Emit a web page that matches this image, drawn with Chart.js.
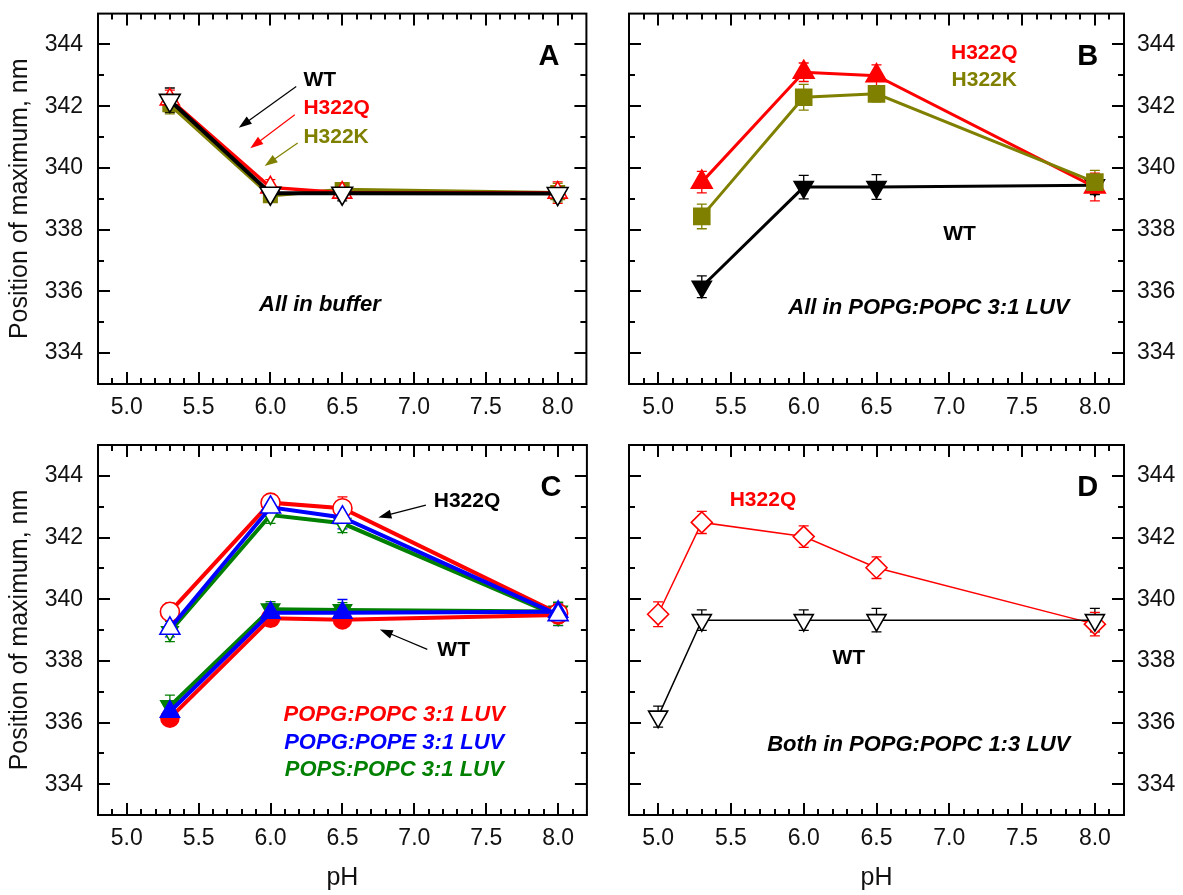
<!DOCTYPE html>
<html>
<head>
<meta charset="utf-8">
<script src="https://cdn.jsdelivr.net/npm/chart.js@4.4.0/dist/chart.umd.min.js"></script>
<style>
  body { margin: 0; background: #fff; }
  #wrap { position: relative; width: 1183px; height: 895px; overflow: hidden; }
  canvas { position: absolute; }
</style>
</head>
<body>
<div id="wrap">
  <canvas id="cA" width="600" height="440" style="left:0;top:0"></canvas>
  <canvas id="cB" width="583" height="440" style="left:600px;top:0"></canvas>
  <canvas id="cC" width="600" height="465" style="left:0;top:430px"></canvas>
  <canvas id="cD" width="583" height="465" style="left:600px;top:430px"></canvas>
</div>
<script>
// tick labels
const xTickVals = [5.0, 5.5, 6.0, 6.5, 7.0, 7.5, 8.0];
const yTickVals = [334, 336, 338, 340, 342, 344];

// pH values
const phABC = [5.3, 6.0, 6.5, 8.0];
const phD = [5.0, 5.3, 6.0, 6.5, 8.0];

// A: all in buffer
const aWT = [342.19, 339.18, 339.18, 339.17];
const aWTErr = [0.4, 0.2, 0.25, 0.2];
const aQ = [342.22, 339.37, 339.2, 339.2];
const aQErr = [0.3, 0.25, 0.2, 0.35];
const aK = [342.05, 339.1, 339.3, 339.2];
const aKErr = [0.3, 0.2, 0.2, 0.3];

// B: POPG:POPC 3:1 LUV
const bQ = [339.54, 343.10, 342.99, 339.38];
const bQErr = [0.35, 0.3, 0.35, 0.45];
const bK = [338.43, 342.29, 342.40, 339.54];
const bKErr = [0.4, 0.42, 0.26, 0.38];
const bWT = [336.15, 339.38, 339.38, 339.44];
const bWTErr = [0.35, 0.38, 0.4, 0.3];

// C: three lipid mixtures
const cQpc = [339.59, 343.13, 342.95, 339.54];
const cQpcErr = [0.28, 0.17, 0.37, 0.3];
const cQpe = [339.05, 342.98, 342.65, 339.49];
const cQpeErr = [0.27, 0.2, 0.37, 0.35];
const cQps = [338.95, 342.73, 342.46, 339.45];
const cQpsErr = [0.33, 0.27, 0.3, 0.3];
const cWTpc = [336.14, 339.38, 339.33, 339.49];
const cWTpcErr = [0.16, 0.2, 0.2, 0.25];
const cWTpe = [336.35, 339.56, 339.56, 339.59];
const cWTpeErr = [0.25, 0.3, 0.43, 0.3];
const cWTps = [336.53, 339.67, 339.65, 339.6];
const cWTpsErr = [0.36, 0.25, 0.24, 0.3];

// D: POPG:POPC 1:3 LUV
const dQ = [339.51, 342.49, 342.03, 341.02, 339.19];
const dQErr = [0.4, 0.36, 0.35, 0.35, 0.38];
const dWT = [336.19, 339.32, 339.32, 339.32, 339.32];
const dWTErr = [0.34, 0.33, 0.33, 0.38, 0.38];

const RED = '#ff0000', OLIVE = '#808000', BLUE = '#0000ff', GREEN = '#008000', BLACK = '#000000';
const FONT = '"Liberation Sans", Arial, sans-serif';

function pts(xs, ys) {
  return xs.map((x, i) => ({ x: x, y: ys[i] }));
}

function series(xs, ys, err, color, style, open, r, lw, down) {
  return {
    data: pts(xs, ys),
    err: err,
    borderColor: color,
    borderWidth: lw,
    pointStyle: style,
    pointRotation: down ? 180 : 0,
    pointRadius: r,
    pointBorderWidth: 1.6,
    pointBorderColor: color,
    pointBackgroundColor: open ? '#ffffff' : color,
    tension: 0,
    fill: false
  };
}

function decor(notes, arrows) {
  return {
    id: 'decor',
    beforeDatasetsDraw(chart) {
      const { ctx, scales: { x, y } } = chart;
      ctx.save();
      chart.data.datasets.forEach(ds => {
        if (!ds.err) return;
        ctx.strokeStyle = ds.borderColor;
        ctx.lineWidth = 1.3;
        ds.data.forEach((p, i) => {
          const px = x.getPixelForValue(p.x);
          const t = y.getPixelForValue(p.y + ds.err[i]);
          const b = y.getPixelForValue(p.y - ds.err[i]);
          ctx.beginPath();
          ctx.moveTo(px, t); ctx.lineTo(px, b);
          ctx.moveTo(px - 5, t); ctx.lineTo(px + 5, t);
          ctx.moveTo(px - 5, b); ctx.lineTo(px + 5, b);
          ctx.stroke();
        });
      });
      ctx.restore();
    },
    afterDatasetsDraw(chart) {
      const { ctx, chartArea: a, scales: { x, y } } = chart;
      ctx.save();
      ctx.strokeStyle = '#000';
      ctx.lineWidth = 2;
      ctx.strokeRect(a.left, a.top, a.right - a.left, a.bottom - a.top);
      ctx.beginPath();
      for (let k = 49; k <= 81; k++) {
        const px = Math.round(x.getPixelForValue(k / 10));
        const len = k % 5 === 0 ? 12 : 6;
        ctx.moveTo(px, a.bottom); ctx.lineTo(px, a.bottom - len);
        ctx.moveTo(px, a.top); ctx.lineTo(px, a.top + len);
      }
      for (let v = 334; v <= 344; v++) {
        const py = Math.round(y.getPixelForValue(v));
        const len = v % 2 === 0 ? 12 : 6;
        ctx.moveTo(a.left, py); ctx.lineTo(a.left + len, py);
        ctx.moveTo(a.right, py); ctx.lineTo(a.right - len, py);
      }
      ctx.stroke();

      arrows.forEach(ar => {
        const x1 = x.getPixelForValue(ar[0]), y1 = y.getPixelForValue(ar[1]);
        const x2 = x.getPixelForValue(ar[2]), y2 = y.getPixelForValue(ar[3]);
        const ang = Math.atan2(y2 - y1, x2 - x1);
        ctx.strokeStyle = ar[4];
        ctx.fillStyle = ar[4];
        ctx.lineWidth = 1.2;
        ctx.beginPath();
        ctx.moveTo(x1, y1);
        ctx.lineTo(x2 - 10 * Math.cos(ang), y2 - 10 * Math.sin(ang));
        ctx.stroke();
        ctx.beginPath();
        ctx.moveTo(x2, y2);
        ctx.lineTo(x2 - 13 * Math.cos(ang) + 4.5 * Math.sin(ang), y2 - 13 * Math.sin(ang) - 4.5 * Math.cos(ang));
        ctx.lineTo(x2 - 13 * Math.cos(ang) - 4.5 * Math.sin(ang), y2 - 13 * Math.sin(ang) + 4.5 * Math.cos(ang));
        ctx.closePath();
        ctx.fill();
      });

      ctx.textBaseline = 'middle';
      notes.forEach(n => {
        ctx.fillStyle = n.c;
        ctx.font = n.f;
        ctx.textAlign = n.a || 'left';
        ctx.fillText(n.t, x.getPixelForValue(n.x), y.getPixelForValue(n.y));
      });
      ctx.restore();
    }
  };
}

const LABEL = 'bold 21px ' + FONT;
const ITAL = 'italic bold 22px ' + FONT;
const BIG = 'bold 29px ' + FONT;

function makePanel(id, o) {
  const zeroPad = s => { s.paddingLeft = 0; s.paddingRight = 0; s.paddingTop = 0; s.paddingBottom = 0; };
  new Chart(document.getElementById(id), {
    type: 'line',
    data: { datasets: o.datasets },
    options: {
      responsive: false,
      animation: false,
      devicePixelRatio: 1,
      layout: { padding: o.pad },
      plugins: { legend: { display: false }, tooltip: { enabled: false } },
      scales: {
        x: {
          type: 'linear',
          min: 4.8,
          max: 8.2,
          afterBuildTicks: s => { s.ticks = xTickVals.map(v => ({ value: v })); },
          afterFit: s => { s.height = o.xH; zeroPad(s); },
          ticks: {
            font: { family: FONT, size: 23 },
            color: '#111',
            padding: 10,
            autoSkip: false,
            maxRotation: 0,
            callback: v => Number(v).toFixed(1)
          },
          grid: { display: false, drawTicks: false },
          border: { display: false },
          title: {
            display: o.xTitle,
            text: 'pH',
            color: '#111',
            font: { family: FONT, size: 25 },
            padding: { top: 0, bottom: 2 }
          }
        },
        y: {
          type: 'linear',
          position: o.yPos,
          min: 333,
          max: 345,
          afterBuildTicks: s => { s.ticks = yTickVals.map(v => ({ value: v })); },
          afterFit: s => { s.width = o.yW; zeroPad(s); },
          ticks: {
            font: { family: FONT, size: 23 },
            color: '#111',
            padding: o.yPos === 'left' ? 15 : 13,
            autoSkip: false
          },
          grid: { display: false, drawTicks: false },
          border: { display: false },
          title: {
            display: o.yPos === 'left',
            text: 'Position of maximum, nm',
            color: '#111',
            font: { family: FONT, size: 25 },
            padding: { top: 5, bottom: 0 }
          }
        }
      }
    },
    plugins: [decor(o.notes, o.arrows)]
  });
}

makePanel('cA', {
  pad: { left: 0, top: 13, right: 7, bottom: 0 }, xH: 56, yW: 98, yPos: 'left', xTitle: false,
  datasets: [
    series(phABC, aWT, aWTErr, BLACK, 'triangle', true, 12, 4, true),
    series(phABC, aQ, aQErr, RED, 'triangle', true, 11, 3.5, false),
    series(phABC, aK, aKErr, OLIVE, 'rect', false, 9.5, 3.5, false)
  ],
  notes: [
    { t: 'WT', x: 6.23, y: 342.83, c: BLACK, f: LABEL },
    { t: 'H322Q', x: 6.23, y: 341.93, c: RED, f: LABEL },
    { t: 'H322K', x: 6.23, y: 341.0, c: OLIVE, f: LABEL },
    { t: 'All in buffer', x: 6.345, y: 335.56, c: BLACK, f: ITAL, a: 'center' },
    { t: 'A', x: 7.94, y: 343.58, c: BLACK, f: BIG, a: 'center' }
  ],
  arrows: [
    [6.18, 342.64, 5.78, 341.30, BLACK],
    [6.17, 341.72, 5.86, 340.64, RED],
    [6.19, 340.81, 5.96, 340.06, OLIVE]
  ]
});

makePanel('cB', {
  pad: { left: 29, top: 13, right: 0, bottom: 0 }, xH: 56, yW: 59, yPos: 'right', xTitle: false,
  datasets: [
    series(phABC, bK, bKErr, OLIVE, 'rect', false, 11.3, 3, false),
    series(phABC, bQ, bQErr, RED, 'triangle', false, 12, 3, false),
    series(phABC, bWT, bWTErr, BLACK, 'triangle', false, 11, 3, true)
  ],
  notes: [
    { t: 'H322Q', x: 7.24, y: 343.72, c: RED, f: LABEL, a: 'center' },
    { t: 'H322K', x: 7.24, y: 342.83, c: OLIVE, f: LABEL, a: 'center' },
    { t: 'WT', x: 7.07, y: 337.85, c: BLACK, f: LABEL, a: 'center' },
    { t: 'All in POPG:POPC 3:1 LUV', x: 6.86, y: 335.46, c: BLACK, f: ITAL, a: 'center' },
    { t: 'B', x: 7.95, y: 343.58, c: BLACK, f: BIG, a: 'center' }
  ],
  arrows: []
});

makePanel('cC', {
  pad: { left: 0, top: 15, right: 7, bottom: 0 }, xH: 80, yW: 98, yPos: 'left', xTitle: true,
  datasets: [
    series(phABC, cQpe, cQpeErr, BLUE, 'triangle', true, 11.5, 4, false),
    series(phABC, cWTpe, cWTpeErr, BLUE, 'triangle', false, 11, 4, false),
    series(phABC, cQpc, cQpcErr, RED, 'circle', true, 9.5, 4, false),
    series(phABC, cWTpc, cWTpcErr, RED, 'circle', false, 9, 4, false),
    series(phABC, cQps, cQpsErr, GREEN, 'triangle', true, 9.5, 4, true),
    series(phABC, cWTps, cWTpsErr, GREEN, 'triangle', false, 10.5, 4, true)
  ],
  notes: [
    { t: 'H322Q', x: 7.135, y: 343.18, c: BLACK, f: LABEL },
    { t: 'WT', x: 7.16, y: 338.35, c: BLACK, f: LABEL },
    { t: 'POPG:POPC 3:1 LUV', x: 6.86, y: 336.24, c: RED, f: ITAL, a: 'center' },
    { t: 'POPG:POPE 3:1 LUV', x: 6.86, y: 335.34, c: BLUE, f: ITAL, a: 'center' },
    { t: 'POPS:POPC 3:1 LUV', x: 6.86, y: 334.46, c: GREEN, f: ITAL, a: 'center' },
    { t: 'C', x: 7.95, y: 343.6, c: BLACK, f: BIG, a: 'center' }
  ],
  arrows: [
    [7.08, 343.05, 6.75, 342.65, BLACK],
    [7.09, 338.37, 6.76, 339.02, BLACK]
  ]
});

makePanel('cD', {
  pad: { left: 29, top: 15, right: 0, bottom: 0 }, xH: 80, yW: 59, yPos: 'right', xTitle: true,
  datasets: [
    series(phD, dWT, dWTErr, BLACK, 'triangle', true, 11, 1.5, true),
    series(phD, dQ, dQErr, RED, 'rectRot', true, 10.5, 1.5, false)
  ],
  notes: [
    { t: 'H322Q', x: 5.72, y: 343.22, c: RED, f: LABEL, a: 'center' },
    { t: 'WT', x: 6.31, y: 338.09, c: BLACK, f: LABEL, a: 'center' },
    { t: 'Both in POPG:POPC 1:3 LUV', x: 6.79, y: 335.27, c: BLACK, f: ITAL, a: 'center' },
    { t: 'D', x: 7.95, y: 343.6, c: BLACK, f: BIG, a: 'center' }
  ],
  arrows: []
});
</script>
</body>
</html>
